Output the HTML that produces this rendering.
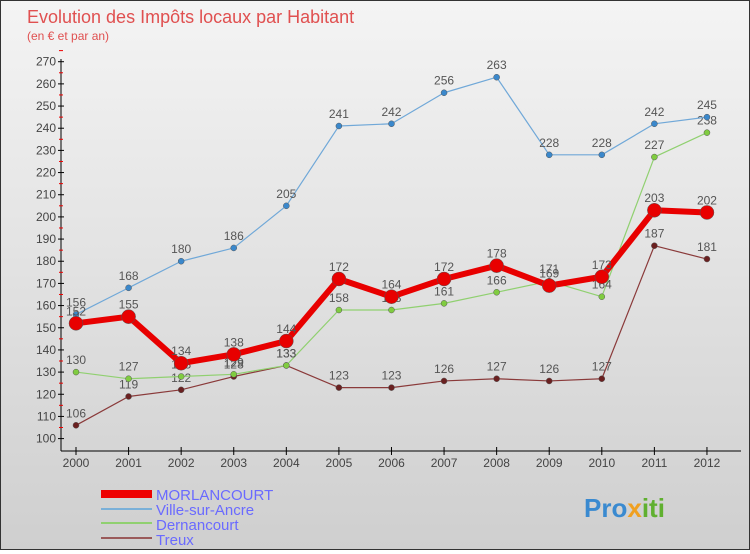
<!DOCTYPE html>
<html><head><meta charset="utf-8"><style>
body{margin:0;width:750px;height:550px;overflow:hidden;font-family:"Liberation Sans",sans-serif}
#wrap{position:relative;width:748px;height:548px;border:1px solid #333;background:linear-gradient(#f4f4f4,#cfcfcf)}
</style></head><body>
<div id="wrap">
<svg id="chart" width="748" height="548">
<text x="26" y="22" font-size="18" fill="#e05050">Evolution des Impôts locaux par Habitant</text>
<text x="26" y="39" font-size="12" fill="#e05050">(en € et par an)</text>
<g id="axes"></g><g id="series"></g>
<g>
<rect x="100" y="489" width="51" height="8" fill="#e00"/>
<text x="155" y="499" font-size="15" fill="#6a6aff">MORLANCOURT</text>
<line x1="100" y1="508" x2="151" y2="508" stroke="#7ab0d8" stroke-width="2"/>
<text x="155" y="514" font-size="15" fill="#6a6aff">Ville-sur-Ancre</text>
<line x1="100" y1="522" x2="151" y2="522" stroke="#90d070" stroke-width="2"/>
<text x="155" y="529" font-size="15" fill="#6a6aff">Dernancourt</text>
<line x1="100" y1="537" x2="151" y2="537" stroke="#9a5a5a" stroke-width="2"/>
<text x="155" y="544" font-size="15" fill="#6a6aff">Treux</text>
</g>
<text x="583" y="516" font-size="26" font-weight="bold" fill="#3a8ad0">Pro<tspan fill="#f0a020">x</tspan><tspan fill="#60b030">iti</tspan></text>
</svg></div>
<script>
const years=[2000,2001,2002,2003,2004,2005,2006,2007,2008,2009,2010,2011,2012];
const yTicks=[100,110,120,130,140,150,160,170,180,190,200,210,220,230,240,250,260,270];
const morlancourt=[152,155,134,138,144,172,164,172,178,169,173,203,202];
const ville=[156,168,180,186,205,241,242,256,263,228,228,242,245];
const dernancourt=[130,127,128,129,133,158,158,161,166,171,164,227,238];
const treux=[106,119,122,128,133,123,123,126,127,126,127,187,181];
const NS='http://www.w3.org/2000/svg';
const xS=i=>75+i*52.58;
const yS=v=>437.6-(v-100)*2.217;
function mk(p,t,a){const e=document.createElementNS(NS,t);for(const k in a)e.setAttribute(k,a[k]);p.appendChild(e);return e;}
const ax=document.getElementById('axes');
let l=mk(ax,'line',{x1:60,y1:58,x2:60,y2:450,stroke:'#000'});


l=mk(ax,'line',{x1:60,y1:450,x2:740,y2:450,stroke:'#000'});


yTicks.forEach(v=>{const y=yS(v);
mk(ax,'line',{x1:57,y1:y,x2:63,y2:y,stroke:'#000'});
mk(ax,'line',{x1:58,y1:y-11.1,x2:62,y2:y-11.1,stroke:'#e00'});
const t=mk(ax,'text',{x:55,y:y+4,'font-size':12,'text-anchor':'end',fill:'#444'});t.textContent=v;

});
years.forEach((yr,i)=>{const x=xS(i);mk(ax,'line',{x1:x,y1:446,x2:x,y2:454,stroke:'#000'});
const t=mk(ax,'text',{x:x,y:466,'font-size':12,'text-anchor':'middle',fill:'#444'});t.textContent=yr;

});
const sg=document.getElementById('series');
function draw(name,vals,color,w,r,dot){
const g=mk(sg,'g',{});


mk(g,'polyline',{points:vals.map((v,i)=>xS(i)+','+yS(v)).join(' '),fill:'none',stroke:color,'stroke-width':w,'stroke-linejoin':'round'});
vals.forEach((v,i)=>{const c=mk(g,'circle',{cx:xS(i),cy:yS(v),r:r,fill:dot,stroke:'#555','stroke-width':0.5});


const t=mk(g,'text',{x:xS(i),y:yS(v)-8,'font-size':12,'text-anchor':'middle',fill:'#555'});t.textContent=v;});}
draw('treux',treux,'#8a3a3a',1.2,3,'#6a2020');
draw('dernancourt',dernancourt,'#90d070',1.2,3,'#80cc40');
draw('ville',ville,'#70a8d8',1.2,3,'#3a88cc');
draw('morlancourt',morlancourt,'#e80000',6,7,'#e80000');
</script>
</body></html>
